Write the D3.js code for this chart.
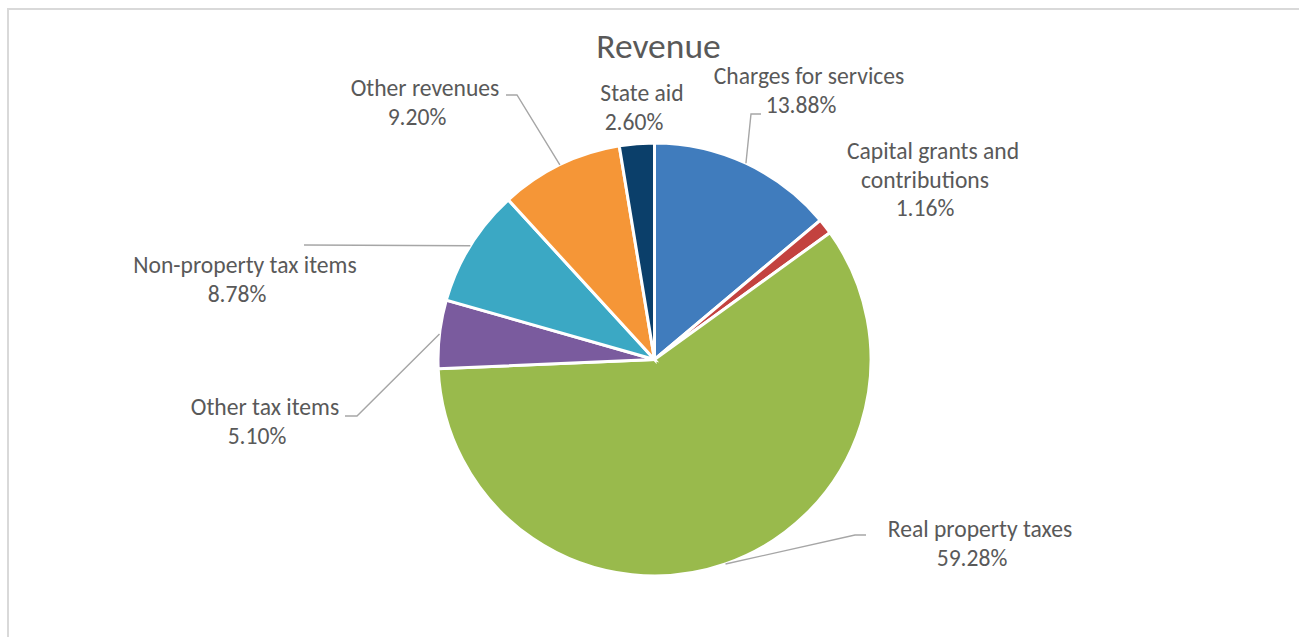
<!DOCTYPE html>
<html>
<head>
<meta charset="utf-8">
<script src="https://cdn.jsdelivr.net/npm/d3@7"></script>
<style>
  html, body { margin: 0; padding: 0; background: #fff; }
  svg { display: block; }
</style>
</head>
<body>
<script>
// Revenue composition (percent of total)
const categories = [
  "Charges for services",
  "Capital grants and contributions",
  "Real property taxes",
  "Other tax items",
  "Non-property tax items",
  "Other revenues",
  "State aid"
];
const shares = [13.88, 1.16, 59.28, 5.10, 8.78, 9.20, 2.60];
const sliceColors = ["#407cbd", "#c3423f", "#99ba4c", "#7a5b9e", "#3ba8c4", "#f59637", "#0b3f6a"];

// How each category name wraps in its label
const labelLines = [
  ["Charges for services"],
  ["Capital grants and", "contributions"],
  ["Real property taxes"],
  ["Other tax items"],
  ["Non-property tax items"],
  ["Other revenues"],
  ["State aid"]
];

// Label placement: centre x, first baseline y, leader-line bend points
const labelLayout = [
  { x: 809, y: 84,  leader: [[751, 114], [761, 114]] },
  { x: 933, y: 159, leader: null },
  { x: 980, y: 537, leader: [[855, 535], [866, 535]] },
  { x: 265, y: 415, leader: [[357, 416], [345, 416]] },
  { x: 245, y: 273, leader: [[304, 245]] },
  { x: 425, y: 96,  leader: [[517, 95], [506, 95]] },
  { x: 642, y: 101, leader: null }
];

const W = 1299, H = 637;
const cx = 654.5, cy = 359.5, R = 216.5;
const FONT = "Carlito, Lato, 'Open Sans', sans-serif";
const textColor = "#595959";
const lineH = 28.6;

const svg = d3.select("body").append("svg")
  .attr("width", W).attr("height", H);

// chart frame
svg.append("rect")
  .attr("x", 8).attr("y", 9)
  .attr("width", 1400).attr("height", 700)
  .attr("fill", "#fff")
  .attr("stroke", "#d9d9d9").attr("stroke-width", 2);

// title
svg.append("text")
  .attr("x", 658.5).attr("y", 58)
  .attr("text-anchor", "middle")
  .attr("font-family", FONT)
  .attr("font-size", 35.5)
  .attr("fill", textColor)
  .text("Revenue");

const data = categories.map((c, i) => ({ name: c, value: shares[i], color: sliceColors[i], lines: labelLines[i], layout: labelLayout[i] }));

const pie = d3.pie().sort(null).value(d => d.value).startAngle(0).endAngle(2 * Math.PI);
const arc = d3.arc().innerRadius(0).outerRadius(R);
const arcs = pie(data);

const g = svg.append("g").attr("transform", `translate(${cx},${cy})`);
g.selectAll("path.slice")
  .data(arcs)
  .join("path")
  .attr("class", "slice")
  .attr("d", arc)
  .attr("fill", d => d.data.color)
  .attr("stroke", "#fff")
  .attr("stroke-width", 3)
  .attr("stroke-linejoin", "miter");

// leader lines from the slice edge midpoint to the label
const edgePoint = a => {
  const m = (a.startAngle + a.endAngle) / 2;
  return [cx + R * Math.sin(m), cy - R * Math.cos(m)];
};
svg.append("g").selectAll("path.leader")
  .data(arcs.filter(a => a.data.layout.leader))
  .join("path")
  .attr("class", "leader")
  .attr("d", a => d3.line()([edgePoint(a), ...a.data.layout.leader]))
  .attr("fill", "none")
  .attr("stroke", "#a6a6a6")
  .attr("stroke-width", 1.4);

// data labels: category name then percent
const fmt = v => d3.format(".2f")(v) + "%";
const labels = svg.append("g").selectAll("text.label")
  .data(arcs)
  .join("text")
  .attr("class", "label")
  .attr("font-family", FONT)
  .attr("font-size", 23.6)
  .attr("fill", textColor)
  .attr("text-anchor", "middle");

labels.each(function(a) {
  const t = d3.select(this);
  const L = a.data.layout;
  const rows = [...a.data.lines, fmt(a.data.value)];
  rows.forEach((r, k) => {
    t.append("tspan")
      .attr("x", k === 0 ? L.x : L.x - 8)
      .attr("y", L.y + k * lineH)
      .text(r);
  });
});
</script>
</body>
</html>
